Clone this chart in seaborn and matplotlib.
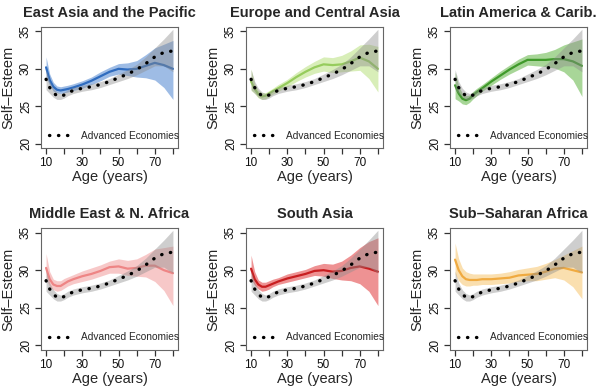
import numpy as np
import pandas as pd
import matplotlib
matplotlib.use("Agg")
import matplotlib.pyplot as plt
import seaborn as sns
from matplotlib.lines import Line2D

# ---------------- data ----------------
ages = [10, 12, 14, 16, 18, 20, 22, 25, 30, 35, 40, 45, 50, 55, 60, 65, 70, 75, 80]

adv_mean = [28.6, 27.5, 26.8, 26.4, 26.3, 26.5, 26.8, 27.1, 27.4, 27.6, 27.9, 28.3, 28.8, 29.3, 29.9, 30.7, 31.6, 32.2, 32.4]
adv_lo   = [27.2, 26.7, 26.2, 25.9, 25.9, 26.1, 26.4, 26.7, 27.0, 27.2, 27.5, 27.9, 28.3, 28.7, 29.2, 29.8, 30.4, 30.4, 29.6]
adv_hi   = [29.9, 28.3, 27.4, 26.9, 26.7, 26.9, 27.2, 27.5, 27.8, 28.0, 28.3, 28.7, 29.3, 29.9, 30.6, 31.6, 32.8, 34.0, 35.3]

regions = ["East Asia and the Pacific", "Europe and Central Asia", "Latin America & Carib.",
           "Middle East & N. Africa", "South Asia", "Sub–Saharan Africa"]

eap_mean = [30.2, 28.5, 27.6, 27.2, 27.1, 27.2, 27.3, 27.5, 27.9, 28.4, 29.0, 29.6, 30.0, 29.9, 30.0, 30.4, 30.8, 30.5, 30.0]
eap_lo   = [28.8, 27.8, 27.0, 26.8, 26.7, 26.8, 26.9, 27.1, 27.4, 27.9, 28.4, 29.0, 29.3, 29.1, 28.9, 28.8, 28.5, 27.5, 25.9]
eap_hi   = [31.6, 29.3, 28.2, 27.7, 27.6, 27.7, 27.8, 28.0, 28.4, 28.9, 29.6, 30.2, 30.7, 30.8, 31.1, 31.9, 32.8, 33.3, 33.8]

eca_mean = [28.3, 27.3, 26.6, 26.3, 26.4, 26.7, 27.0, 27.4, 28.1, 28.9, 29.6, 30.2, 30.6, 30.5, 30.6, 31.0, 31.5, 31.0, 30.0]
eca_lo   = [27.1, 26.7, 26.1, 25.9, 26.0, 26.3, 26.6, 27.0, 27.6, 28.3, 28.9, 29.4, 29.7, 29.5, 29.6, 29.7, 29.8, 28.7, 26.9]
eca_hi   = [30.0, 28.0, 27.1, 26.8, 26.8, 27.1, 27.4, 27.9, 28.6, 29.5, 30.3, 31.0, 31.6, 31.5, 31.8, 32.4, 33.2, 33.3, 33.0]

lac_mean = [27.8, 26.7, 26.0, 25.8, 26.0, 26.5, 26.9, 27.4, 28.3, 29.1, 29.9, 30.6, 31.2, 31.2, 31.2, 31.3, 31.3, 31.0, 30.4]
lac_lo   = [26.0, 25.7, 25.3, 25.2, 25.5, 26.0, 26.4, 27.0, 27.8, 28.6, 29.3, 29.9, 30.5, 30.4, 30.3, 30.1, 29.6, 28.5, 26.3]
lac_hi   = [29.6, 27.7, 26.7, 26.4, 26.5, 27.0, 27.4, 27.9, 28.8, 29.7, 30.5, 31.3, 31.9, 32.0, 32.2, 32.6, 33.2, 33.6, 34.0]

mena_mean = [30.3, 28.8, 28.1, 27.9, 27.9, 28.2, 28.5, 28.8, 29.2, 29.5, 29.9, 30.4, 30.5, 30.2, 30.3, 30.6, 30.6, 30.0, 29.6]
mena_lo   = [28.8, 27.8, 27.4, 27.2, 27.3, 27.6, 27.9, 28.2, 28.5, 28.8, 29.2, 29.6, 29.6, 29.3, 29.2, 29.1, 28.5, 27.3, 25.3]
mena_hi   = [32.2, 29.8, 28.8, 28.6, 28.6, 28.9, 29.1, 29.4, 29.9, 30.3, 30.7, 31.2, 31.5, 31.3, 31.5, 32.1, 32.8, 33.0, 33.2]

sa_mean = [30.2, 28.8, 28.1, 27.8, 27.8, 28.0, 28.2, 28.5, 28.9, 29.2, 29.5, 29.9, 30.0, 29.8, 29.9, 30.3, 30.5, 30.2, 29.8]
sa_lo   = [28.8, 28.0, 27.5, 27.2, 27.3, 27.5, 27.8, 28.1, 28.4, 28.7, 29.0, 29.3, 29.2, 28.9, 28.7, 28.6, 28.2, 27.2, 25.3]
sa_hi   = [32.0, 29.8, 28.7, 28.4, 28.4, 28.6, 28.8, 29.0, 29.5, 29.8, 30.1, 30.6, 30.9, 30.8, 31.2, 32.0, 33.0, 33.8, 34.3]

ssa_mean = [31.4, 30.0, 29.2, 28.8, 28.7, 28.7, 28.7, 28.8, 28.8, 28.9, 29.0, 29.3, 29.4, 29.5, 29.8, 30.2, 30.3, 30.0, 29.7]
ssa_lo   = [29.5, 28.6, 28.1, 27.9, 27.9, 28.0, 28.0, 28.1, 28.1, 28.2, 28.3, 28.5, 28.6, 28.6, 28.8, 29.0, 28.7, 27.8, 26.2]
ssa_hi   = [33.6, 31.5, 30.3, 29.8, 29.6, 29.5, 29.5, 29.5, 29.5, 29.6, 29.8, 30.1, 30.3, 30.5, 30.9, 31.4, 32.0, 32.6, 33.2]

means = [eap_mean, eca_mean, lac_mean, mena_mean, sa_mean, ssa_mean]
los = [eap_lo, eca_lo, lac_lo, mena_lo, sa_lo, ssa_lo]
his = [eap_hi, eca_hi, lac_hi, mena_hi, sa_hi, ssa_hi]

fill_colors = ["#4f86d1", "#b8e07e", "#62b544", "#f29c9c", "#e0393b", "#f7c56e"]
line_colors = ["#2f6cbf", "#96cc5c", "#3f9a2a", "#ee8585", "#c81e20", "#f0aa40"]

x_ticks = [10, 20, 30, 40, 50, 60, 70, 80]
x_labels = ["10", "", "30", "", "50", "", "70", ""]
y_ticks = [20, 25, 30, 35]

# ---------------- plotting ----------------
sns.set_style("ticks")
plt.rcParams["font.family"] = ["Liberation Sans", "DejaVu Sans"]

fig = plt.figure(figsize=(6.0, 3.89), dpi=100)

lefts = [41, 246, 450]
row_boxes = [(27, 148), (228, 350)]  # top, bottom in px
W, H = 600, 389
aw = 137

adv_df = pd.DataFrame({"age": ages, "se": adv_mean})
dot_style = (0, (0.1, 2.6))

for i, reg in enumerate(regions):
    r, c = divmod(i, 3)
    top, bot = row_boxes[r]
    ax = fig.add_axes([lefts[c] / W, 1 - bot / H, aw / W, (bot - top) / H])
    df = pd.DataFrame({"age": ages, "se": means[i]})

    ax.fill_between(ages, los[i], his[i], color=fill_colors[i], alpha=0.55, lw=0, zorder=1)
    sns.lineplot(data=df, x="age", y="se", ax=ax, color=line_colors[i], lw=1.6, zorder=2)
    ax.fill_between(ages, adv_lo, adv_hi, color="#8c8c8c", alpha=0.42, lw=0, zorder=3)
    sns.lineplot(data=adv_df, x="age", y="se", ax=ax, color="black", lw=2.4,
                 linestyle=dot_style, dash_capstyle="round", zorder=4)

    ax.set_xlim(7.2, 82.8)
    ax.set_ylim(19.4, 35.6)
    ax.set_xticks(x_ticks)
    ax.set_xticklabels(x_labels, fontsize=8.5)
    ax.set_yticks(y_ticks)
    ax.set_yticklabels([str(v) for v in y_ticks], fontsize=8.5, rotation=90, va="center")
    ax.tick_params(axis="both", direction="out", length=4.5, width=0.9, color="#333333",
                   pad=2, labelcolor="#111111")
    for s in ax.spines.values():
        s.set_visible(True)
        s.set_color("#666666")
        s.set_linewidth(0.8)
    ax.set_xlabel("Age (years)", fontsize=10.5, labelpad=1)
    ax.set_ylabel("Self–Esteem", fontsize=10.5, labelpad=3)
    ax.set_title(reg, fontsize=10.5, fontweight="bold", pad=7)

    h = Line2D([0], [0], color="black", lw=2.4, linestyle=dot_style, dash_capstyle="round")
    ax.legend([h], ["Advanced Economies"], loc="lower left", frameon=False,
              fontsize=7.3, handlelength=2.4, handletextpad=0.8,
              borderaxespad=0.1, bbox_to_anchor=(0.02, 0.02))

fig.savefig("out.png", dpi=100)
